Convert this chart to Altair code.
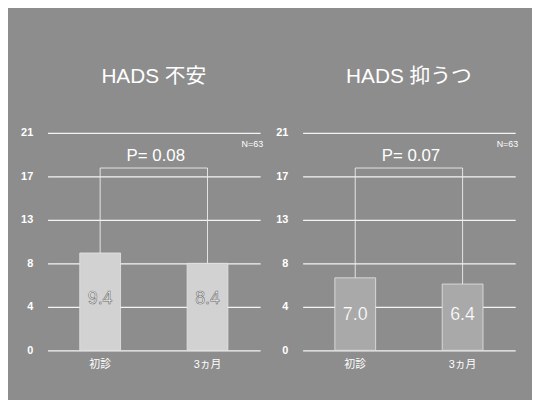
import altair as alt
import pandas as pd

timepoints = ["初診", "3ヵ月"]
anxiety = [9.4, 8.4]
depression = [7.0, 6.4]
titles = ["HADS 不安", "HADS 抑うつ"]
p_labels = ["P= 0.08", "P= 0.07"]
n_label = "N=63"
bracket_level = 17.6
tick_values = [0, 4.2, 8.4, 12.6, 16.8, 21]

FONT = "Liberation Sans, Noto Sans CJK JP"
W, H = 215, 220


def panel(title, values, plabel, bar_color, value_y, value_color, value_stroke, stroke_w):
    df = pd.DataFrame({"t": timepoints, "v": values, "top": [bracket_level] * 2})
    xscale = alt.Scale(domain=timepoints, paddingInner=0.62, paddingOuter=0.3)
    xenc = alt.X("t:N", scale=xscale,
                 axis=alt.Axis(title=None, labelAngle=0, labelColor="white",
                               labelFontSize=11, labelFont=FONT, labelPadding=8,
                               domain=False, ticks=False, grid=False))
    yscale = alt.Scale(domain=[0, 21], nice=False)
    base = alt.Chart(df)
    bars = base.mark_bar(color=bar_color, stroke="#e6e6e6", strokeWidth=0.8).encode(
        x=xenc,
        y=alt.Y("v:Q", scale=yscale,
                axis=alt.Axis(title=None, values=tick_values, labelExpr="round(datum.value)",
                              labelColor="white", labelFontSize=11, labelFontWeight="bold",
                              labelFont=FONT, labelPadding=15, domain=False, ticks=False,
                              grid=True, gridColor="white", gridWidth=1.2, gridOpacity=0.9,
                              minExtent=30, maxExtent=30)),
    )
    vrules = base.mark_rule(color="#eeeeee", strokeWidth=0.9).encode(
        x=alt.X("t:N", scale=xscale), y="v:Q", y2="top:Q")
    hdf = pd.DataFrame({"a": [timepoints[0]], "b": [timepoints[1]], "top": [bracket_level], "p": [plabel]})
    hrule = alt.Chart(hdf).mark_rule(color="#eeeeee", strokeWidth=0.9).encode(
        x=alt.X("a:N", scale=xscale), x2="b:N", y="top:Q")
    ptext = alt.Chart(hdf).mark_text(color="white", fontSize=17, font=FONT,
                                     baseline="bottom", dy=-3).encode(
        x=alt.value(W / 2 + 2), y="top:Q", text="p:N")
    vtext = base.mark_text(color=value_color, fontSize=18, font=FONT,
                           stroke=value_stroke, strokeWidth=stroke_w).encode(
        x=alt.X("t:N", scale=xscale), y=alt.value(value_y),
        text=alt.Text("v:Q", format=".1f"))
    ntext = alt.Chart(pd.DataFrame({"n": [n_label]})).mark_text(
        color="white", fontSize=9, font=FONT, align="right", dx=3).encode(
        x=alt.value(W), y=alt.value(11), text="n:N")
    return alt.layer(bars, vrules, hrule, ptext, vtext, ntext).properties(
        width=W, height=H,
        title=alt.TitleParams(title, fontSize=21, color="white", font=FONT,
                              fontWeight="normal", offset=40, anchor="middle"))


left = panel(titles[0], anxiety, p_labels[0], "#d2d2d2", 168, "#f8f8f8", "#6a6a6a", 0.6)
right = panel(titles[1], depression, p_labels[1], "#a9a9a9", 184, "white", "#999999", 0.2)

chart = alt.hconcat(left, right, spacing=10).properties(
    background="#8d8d8d",
    padding={"left": 10, "top": 57, "right": 14, "bottom": 29},
).configure_view(stroke=None)

chart.save("out.html", embed_options={"renderer": "svg", "actions": False})
